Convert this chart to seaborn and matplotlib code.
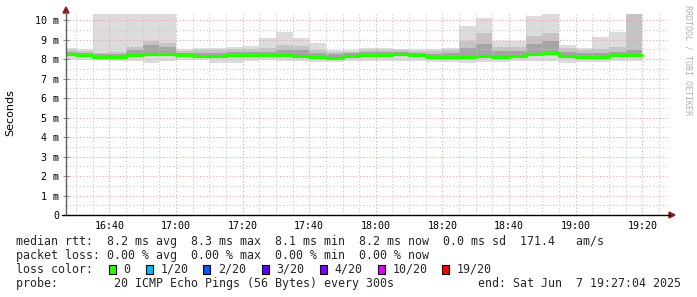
import numpy as np
import pandas as pd
import matplotlib
matplotlib.use("Agg")
import matplotlib.pyplot as plt
import seaborn as sns
from matplotlib.patches import Rectangle, Polygon
from matplotlib.lines import Line2D

# ---------------- data ----------------
times = ["16:25", "16:30", "16:35", "16:40", "16:45", "16:50", "16:55",
         "17:00", "17:05", "17:10", "17:15", "17:20", "17:25", "17:30", "17:35",
         "17:40", "17:45", "17:50", "17:55", "18:00", "18:05", "18:10", "18:15",
         "18:20", "18:25", "18:30", "18:35", "18:40", "18:45", "18:50", "18:55",
         "19:00", "19:05", "19:10", "19:15"]
median_ms = [8.25, 8.22, 8.12, 8.11, 8.20, 8.27, 8.25,
             8.20, 8.17, 8.18, 8.19, 8.22, 8.21, 8.20, 8.17,
             8.09, 8.07, 8.17, 8.22, 8.22, 8.26, 8.20, 8.12,
             8.11, 8.11, 8.14, 8.13, 8.14, 8.27, 8.29, 8.18,
             8.13, 8.10, 8.20, 8.22]
ping_max = [8.55, 8.50, 10.5, 10.5, 10.5, 10.5, 10.5,
            8.51, 8.55, 8.55, 8.63, 8.68, 9.08, 9.40, 9.08,
            8.82, 8.44, 8.46, 8.56, 8.56, 8.53, 8.51, 8.50,
            8.58, 9.69, 10.1, 8.92, 8.92, 10.2, 10.5, 8.72,
            8.55, 9.13, 9.40, 10.5]
ping_p90 = [8.45, 8.42, 8.32, 8.35, 8.63, 8.92, 8.84,
            8.42, 8.45, 8.45, 8.50, 8.50, 8.55, 8.70, 8.68,
            8.45, 8.36, 8.38, 8.48, 8.48, 8.45, 8.42, 8.40,
            8.45, 8.95, 9.35, 8.62, 8.60, 9.18, 9.35, 8.55,
            8.45, 8.50, 8.60, 10.5]
ping_p75 = [8.35, 8.32, 8.25, 8.28, 8.45, 8.70, 8.60,
            8.32, 8.32, 8.33, 8.35, 8.36, 8.38, 8.45, 8.45,
            8.30, 8.25, 8.30, 8.36, 8.36, 8.38, 8.32, 8.28,
            8.30, 8.55, 8.75, 8.40, 8.40, 8.75, 8.90, 8.35,
            8.30, 8.32, 8.38, 8.45]
ping_p25 = [8.15, 8.12, 8.03, 8.02, 8.10, 8.17, 8.15,
            8.10, 8.08, 8.08, 8.09, 8.12, 8.11, 8.10, 8.07,
            8.00, 7.98, 8.08, 8.12, 8.12, 8.16, 8.10, 8.03,
            8.02, 8.02, 8.05, 8.04, 8.05, 8.17, 8.19, 8.08,
            8.04, 8.01, 8.10, 8.12]
ping_min = [7.95, 7.95, 7.95, 7.92, 7.90, 7.81, 7.90,
            7.95, 7.93, 7.81, 7.81, 7.90, 7.93, 7.92, 7.88,
            7.85, 7.87, 7.92, 7.90, 7.88, 7.92, 7.90, 7.85,
            7.85, 7.82, 7.85, 7.85, 7.88, 7.90, 7.92, 7.78,
            7.85, 7.85, 7.90, 7.92]

y_ticks = [0, 1, 2, 3, 4, 5, 6, 7, 8, 9, 10]
x_major_labels = ["16:40", "17:00", "17:20", "17:40", "18:00", "18:20", "18:40", "19:00", "19:20"]

line_rtt = "median rtt:  8.2 ms avg  8.3 ms max  8.1 ms min  8.2 ms now  0.0 ms sd  171.4   am/s"
line_loss = "packet loss: 0.00 % avg  0.00 % max  0.00 % min  0.00 % now"
loss_labels = ["0", "1/20", "2/20", "3/20", "4/20", "10/20", "19/20"]
loss_colors = ["#26ff00", "#00b8ff", "#0059ff", "#5e00ff", "#7e00ff", "#dd00ff", "#ff0000"]
line_probe = "probe:        20 ICMP Echo Pings (56 Bytes) every 300s"
line_end = "end: Sat Jun  7 19:27:04 2025"

# ---------------- layout ----------------
sns.set_theme(style="white")
plt.rcParams["font.family"] = ["DejaVu Sans Mono"]

W, H = 697, 297
fig = plt.figure(figsize=(W / 100, H / 100), dpi=100)
fig.patch.set_facecolor("white")


def fx(px):
    return px / W


def fy(py):
    return 1 - py / H


ax = fig.add_axes([fx(66), fy(215), (669 - 66) / W, (215 - 14) / H])
ax.set_facecolor("white")


def to_min(t):
    return int(t[:2]) * 60 + int(t[3:])


x = np.array([to_min(t) for t in times], dtype=float)
step = 5.0
mx = np.array(ping_max)
p90 = np.array(ping_p90)
p75 = np.array(ping_p75)
p25 = np.array(ping_p25)
mn = np.array(ping_min)
med = np.array(median_ms)

# smoke layers
ax.bar(x, mx - mn, bottom=mn, width=step, align="edge", color="#dcdcdc", linewidth=0, zorder=1)
ax.bar(x, p90 - p25, bottom=p25, width=step, align="edge", color="#c4c4c4", linewidth=0, zorder=1.1)
ax.bar(x, p75 - p25, bottom=p25, width=step, align="edge", color="#a4a4a4", linewidth=0, zorder=1.2)
ax.bar(x, med - p25, bottom=p25, width=step, align="edge", color="#707070", linewidth=0, zorder=1.3)

# median line (steps)
df = pd.DataFrame({"t": np.append(x, x[-1] + step), "rtt": np.append(med, med[-1])})
sns.lineplot(data=df, x="t", y="rtt", drawstyle="steps-post", color="#26ff00",
             linewidth=2.3, ax=ax, zorder=3)

ax.set_xlim(16 * 60 + 27, 19 * 60 + 28)
ax.set_ylim(0, 10.31)

# grid
maj_x = [to_min(t) for t in x_major_labels]
ax.set_xticks(maj_x)
ax.set_xticklabels(x_major_labels)
ax.set_xticks(np.arange(16 * 60 + 30, 19 * 60 + 28, 5), minor=True)
ax.set_yticks(y_ticks)
ax.set_yticklabels(["0" if v == 0 else f"{v} m" for v in y_ticks])
ax.set_yticks(np.arange(0.5, 10.31, 0.5), minor=True)
ax.set_axisbelow(False)
ax.grid(which="minor", color="#c8c8c8", linestyle=(0, (1, 2)), linewidth=0.8, zorder=2)
ax.grid(which="major", color="#eea0a0", linestyle=(0, (1, 2)), linewidth=0.8, zorder=2.1)

ax.tick_params(axis="x", which="both", length=0, pad=4, labelsize=7.2, colors="black")
ax.tick_params(axis="y", which="major", length=4, direction="inout", width=0.8,
               color="#909090", pad=3, labelsize=7.2, labelcolor="black")
ax.tick_params(axis="y", which="minor", length=2, direction="inout", width=0.6, color="#b0b0b0")
ax.tick_params(left=True, which="both")
for s in ax.spines.values():
    s.set_visible(False)
ax.set_xlabel("")
ax.set_ylabel("")
if ax.get_legend():
    ax.get_legend().remove()

# axes lines with arrows
fig.add_artist(Line2D([fx(66), fx(66)], [fy(215), fy(12)], color="#606060", lw=1.0,
                      transform=fig.transFigure))
fig.add_artist(Line2D([fx(62), fx(670)], [fy(215), fy(215)], color="black", lw=1.0,
                      transform=fig.transFigure))
fig.add_artist(Polygon([[fx(63), fy(13)], [fx(69), fy(13)], [fx(66), fy(7)]], closed=True,
                       color="#8b1a1a", transform=fig.transFigure))
fig.add_artist(Polygon([[fx(669), fy(212)], [fx(669), fy(218)], [fx(675), fy(215)]], closed=True,
                       color="#8b1a1a", transform=fig.transFigure))

# labels
fig.text(fx(10), fy(113), "Seconds", rotation=90, ha="center", va="center",
         fontsize=8, family=["DejaVu Sans"], color="black")
fig.text(fx(688), fy(60), "RRDTOOL / TOBI OETIKER", rotation=270, ha="center", va="center",
         fontsize=6.0, color="#b0b0b0")

fs = 8.35
fig.text(fx(16), fy(241.3), line_rtt, ha="left", va="center", fontsize=fs)
fig.text(fx(16), fy(255.3), line_loss, ha="left", va="center", fontsize=fs)
fig.text(fx(16), fy(269.3), "loss color:", ha="left", va="center", fontsize=fs)
box_x = [108.7, 145.7, 203.3, 261.7, 320.0, 378.3, 442.3]
for bx, lab, col in zip(box_x, loss_labels, loss_colors):
    fig.add_artist(Rectangle((fx(bx), fy(273.7)), 7 / W, 8.4 / H, facecolor=col,
                             edgecolor="black", lw=0.8, transform=fig.transFigure))
    fig.text(fx(bx + 14.6), fy(269.3), lab, ha="left", va="center", fontsize=fs)
fig.text(fx(16), fy(283.3), line_probe, ha="left", va="center", fontsize=fs)
fig.text(fx(681), fy(283.3), line_end, ha="right", va="center", fontsize=fs)

fig.savefig("out.png", dpi=100, facecolor="white")
